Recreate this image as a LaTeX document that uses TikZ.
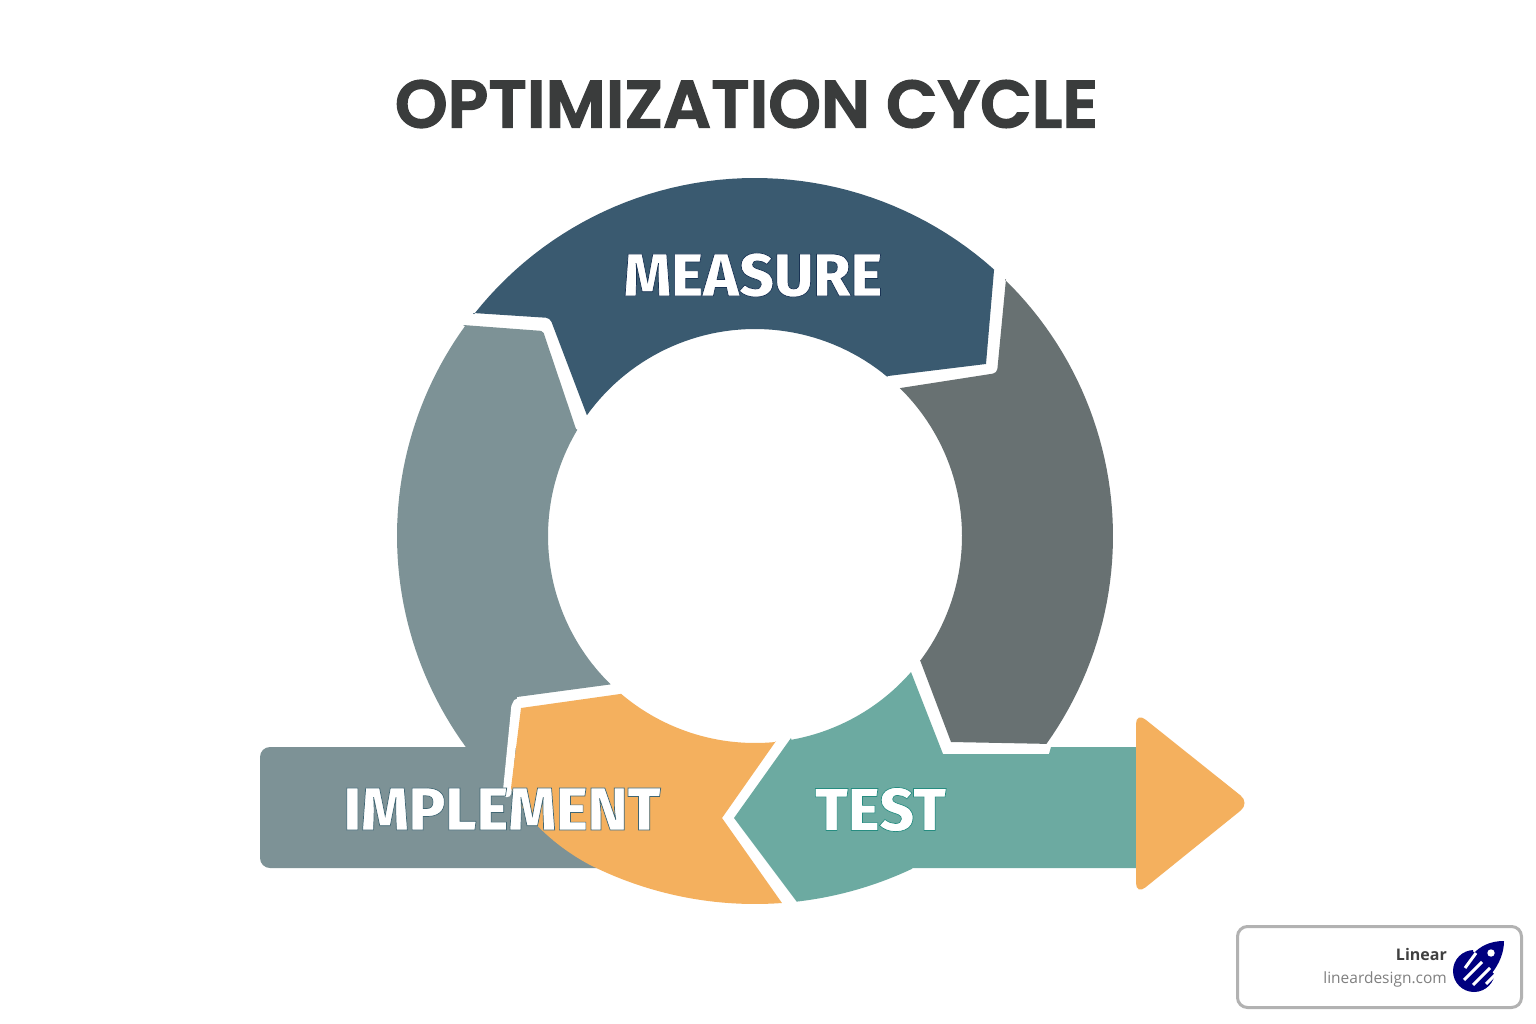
\documentclass[tikz,border=0pt]{standalone}
\usepackage{fontspec}
\setmainfont{Fira Sans}
\newfontfamily\titlefont{Poppins SemiBold}
\newfontfamily\labelfont{Fira Sans ExtraBold}
\newfontfamily\markfont{Open Sans}
\definecolor{cmeasure}{HTML}{3A5A70}
\definecolor{canalyze}{HTML}{687172}
\definecolor{cimplement}{HTML}{7D9296}
\definecolor{ctest}{HTML}{6CAAA1}
\definecolor{corange}{HTML}{F4B05E}
\definecolor{ctitle}{HTML}{3A3C3C}
\definecolor{cnavy}{HTML}{00007F}
\newcommand\outlined[3]{\special{pdf:code q 2 Tr #1 w #2 RG}#3\special{pdf:code Q}}
\tikzset{
  declare function={rx(\r,\a)=755+\r*cos(\a);ry(\r,\a)=536+\r*sin(\a);},
  arcplot/.style={samples=50},
  band/.style={font=\labelfont\fontsize{60.5}{60.5}\selectfont,text=white,inner sep=0pt,anchor=center},
  slit/.style={white,line width=3pt},
}
\begin{document}
\begin{tikzpicture}[x=1pt,y=-1pt]
\useasboundingbox (0,0) rectangle (1536,1024);
\fill[white] (0,0) rectangle (1536,1024);
\node[inner sep=0pt,text=ctitle,font=\titlefont\fontsize{67}{67}\selectfont] (title) at (746.5,104) {\outlined{1.3}{0.227 0.235 0.235}{OPTIMIZATION CYCLE}};
% implement
\fill[cimplement,rounded corners=10pt] (260,747) rectangle (650,868);
\fill[cimplement] (463,325) [rounded corners=2pt] -- (543,331) [sharp corners] -- (576,429) -- plot[arcplot,domain=210.9:134.2] ({rx(207,\x)},{ry(207,\x)}) -- (517,697) -- (503,800) -- (466,750) -- plot[arcplot,domain=143.9:215.9] ({rx(358,\x)},{ry(358,\x)}) -- cycle;
\draw[white,line width=8.5pt,line cap=round,rounded corners=5pt] (620,689) -- (516,702) -- (507,793);
% analyze
\fill[canalyze] (1006,279) -- plot[arcplot,domain=-45.7:35.5] ({rx(358,\x)},{ry(358,\x)}) -- (951,742) -- (920,660) -- plot[arcplot,domain=36.9:-45.6] ({rx(207,\x)},{ry(207,\x)}) [rounded corners=4pt] -- (997,373) [sharp corners] -- cycle;
% measure
\fill[cmeasure] (473,313) -- plot[arcplot,domain=218.3:311.9] ({rx(358,\x)},{ry(358,\x)}) -- (986,364) -- (888,376) -- plot[arcplot,domain=309.7:215.7] ({rx(207,\x)},{ry(207,\x)}) [rounded corners=4pt] -- (550,318) [sharp corners] -- cycle;
% test
\fill[ctest] (911,672) -- (943,754) -- (1049,754) -- (1051,747) -- (1136,747) -- (1136,868) -- (912,868) -- plot[arcplot,domain=64.7:83.5] ({rx(368,\x)},{ry(368,\x)}) -- (734,818) -- (791,738) -- plot[arcplot,domain=79.9:41.1] ({rx(207,\x)},{ry(207,\x)}) -- cycle;
% arrow head
\fill[corange,rounded corners=12pt] (1136,712) -- (1250,803) -- (1136,895) -- cycle;
% orange
\fill[corange] (776,741) -- plot[arcplot,domain=84.2:130.3] ({rx(207,\x)},{ry(207,\x)}) -- (521,708) -- (511,788) .. controls (525,820) and (560,850) .. (594,867) -- plot[arcplot,domain=115.9:85.8] ({rx(368,\x)},{ry(368,\x)}) -- (722,818) -- cycle;
% labels
\node[band] (measure) at (753,275) {\outlined{0.7}{0.1 0.2 0.33}{MEASURE}};
\node[band] (implement) at (502,809) {\outlined{0.7}{0.25 0.4 0.45}{IMPLEMENT}};
\node[band] (test) at (880.5,809.5) {\outlined{0.7}{0.15 0.55 0.5}{TEST}};
% mark
\draw[draw=black!30,line width=3pt,fill=white,rounded corners=10pt] (1237.5,926.5) rectangle (1521.5,1007.5);
\node[anchor=base east,inner sep=0pt,text=black!75,font=\markfont\bfseries\fontsize{16}{16}\selectfont] (brand) at (1447,960) {Linear};
\node[anchor=base east,inner sep=0pt,text=black!50,font=\markfont\fontsize{15.5}{16}\selectfont] (site) at (1447,983) {lineardesign.com};
% logo
\fill[cnavy] (1474,971) circle[radius=21];
\fill[white] (1473,951) -- (1480,930) -- (1515,930) -- (1515,975) -- (1497,977) -- cycle;
\fill[cnavy] (1504,941) .. controls (1490,941) and (1480,946) .. (1472,955) -- (1470,962) -- (1484,978) -- (1492,973) .. controls (1499,964) and (1504,953) .. cycle;
\fill[white] (1491,953) circle[radius=3.7];
\draw[slit] (1465,968) -- (1476,953);
\draw[slit] (1464,980) -- (1482,962);
\draw[slit] (1473,985) -- (1490,968);
\draw[slit] (1486,984) -- (1497,973);
\end{tikzpicture}
\end{document}
